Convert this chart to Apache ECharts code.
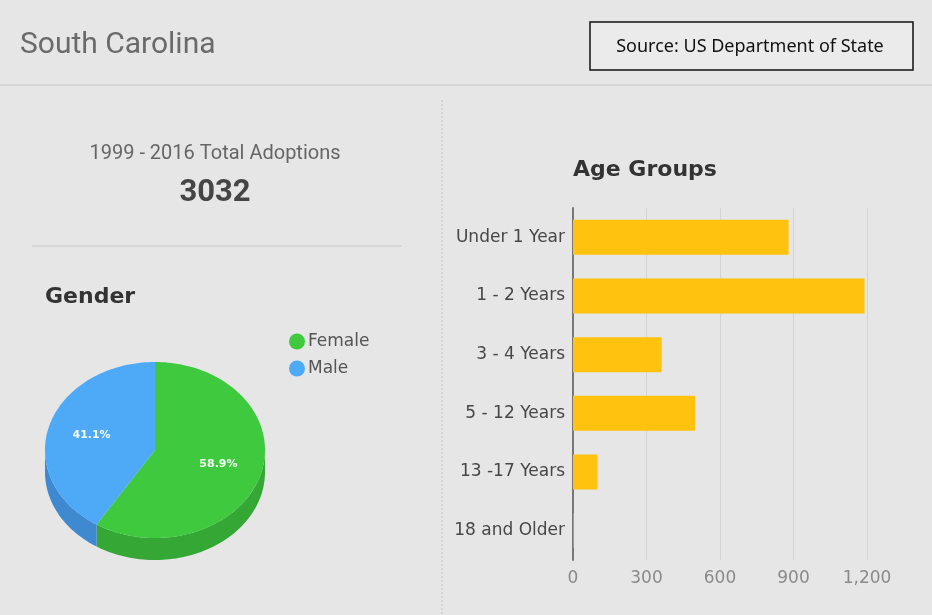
<!DOCTYPE html>
<html>
<head>
<meta charset="utf-8">
<script src="https://cdn.jsdelivr.net/npm/echarts@6/dist/echarts.min.js"></script>
<style>
  html, body { margin: 0; padding: 0; background: #e6e6e6; }
  #chart { width: 932px; height: 615px; }
</style>
</head>
<body>
<div id="chart"></div>
<script>
// data
const genderNames = ['Female', 'Male']
const genderShares = [58.9, 41.1]
const genderColors = ['#3fc93f', '#4ea9f6']
const genderSides = ['#34a734', '#3e89cf']

const ageGroups = ['Under 1 Year', '1 - 2 Years', '3 - 4 Years', '5 - 12 Years', '13 -17 Years', '18 and Older']
const ageCounts = [880, 1190, 362, 498, 100, 2]
const ageTicks = [0, 300, 600, 900, 1200]

const totalYears = '1999 - 2016 Total Adoptions'
const totalAdoptions = '3032'

const chart = echarts.init(document.getElementById('chart'))

// tilted pie, drawn as an ellipse with a darker rim
const pieCx = 155, pieCy = 450, pieR = 110, tilt = 0.8, depth = 22

const pt = (t, dy) => [pieCx + pieR * Math.sin(t), pieCy - pieR * tilt * Math.cos(t) + dy]

const arc = (a, b, dy) => {
  const pts = []
  const n = Math.max(2, Math.ceil((b - a) / 0.03))
  for (let i = 0; i <= n; i++) pts.push(pt(a + (b - a) * i / n, dy))
  return pts
}

const renderSlice = (params, api) => {
  const share = api.value(0)
  const before = api.value(1)
  const idx = api.value(2)
  const t0 = before / 100 * Math.PI * 2
  const t1 = (before + share) / 100 * Math.PI * 2
  const children = []

  // rim: only the front half shows
  const a = Math.max(t0, Math.PI / 2)
  const b = Math.min(t1, Math.PI * 1.5)
  if (b > a) {
    const top = arc(a, b, 0)
    const bottom = arc(a, b, depth).reverse()
    children.push({
      type: 'polygon',
      shape: {points: top.concat(bottom)},
      style: {fill: genderSides[idx]}
    })
  }

  children.push({
    type: 'polygon',
    shape: {points: [[pieCx, pieCy]].concat(arc(t0, t1, 0))},
    style: {fill: genderColors[idx]}
  })

  const mid = (t0 + t1) / 2
  const lp = [pieCx + pieR * 0.6 * Math.sin(mid), pieCy - pieR * tilt * 0.6 * Math.cos(mid)]
  children.push({
    type: 'text',
    style: {
      text: share.toFixed(1) + '%',
      x: lp[0], y: lp[1],
      align: 'center', verticalAlign: 'middle',
      fill: '#f4fff4',
      font: 'bold 11px "DejaVu Sans"'
    }
  })
  return {type: 'group', children}
}

let running = 0
const pieSeries = genderNames.map((name, i) => {
  const s = {
    name,
    type: 'custom',
    coordinateSystem: 'none',
    itemStyle: {color: genderColors[i]},
    renderItem: renderSlice,
    silent: true,
    data: [[genderShares[i], running, i]]
  }
  running += genderShares[i]
  return s
})

const text = (str, x, y, font, fill, align) => ({
  type: 'text',
  style: {
    text: str, x, y, font, fill,
    align: align || 'left', verticalAlign: 'middle',
    textAlign: align || 'left', textVerticalAlign: 'middle'
  }
})

let option = {
  backgroundColor: '#e6e6e6',
  animation: false,
  graphic: [
    text('South Carolina', 20, 45, '30px Roboto', '#6a6a6a'),
    {
      type: 'rect',
      shape: {x: 590, y: 22, width: 323, height: 48},
      style: {fill: '#ebebeb', stroke: '#111', lineWidth: 1.5}
    },
    text('Source: US Department of State', 750, 47, '18px "Noto Sans"', '#111', 'center'),
    {
      type: 'line',
      shape: {x1: 0, y1: 85, x2: 932, y2: 85},
      style: {stroke: '#d6d6d6', lineWidth: 2}
    },
    {
      type: 'line',
      shape: {x1: 442, y1: 100, x2: 442, y2: 615},
      style: {stroke: '#cfcfcf', lineWidth: 1.5, lineDash: [2, 2]}
    },
    text(totalYears, 215, 154, '20px Roboto', '#666', 'center'),
    text(totalAdoptions, 215, 193, 'bold 31px Roboto', '#454545', 'center'),
    {
      type: 'line',
      shape: {x1: 32, y1: 246, x2: 402, y2: 246},
      style: {stroke: '#d2d2d2', lineWidth: 1.5}
    },
    text('Gender', 45, 297, 'bold 22px "DejaVu Sans"', '#333'),
    text('Age Groups', 573, 170, 'bold 22px "DejaVu Sans"', '#333')
  ],
  legend: {
    orient: 'vertical',
    left: 284,
    top: 328,
    icon: 'circle',
    itemWidth: 16,
    itemHeight: 16,
    itemGap: 10,
    selectedMode: false,
    data: genderNames,
    textStyle: {
      fontFamily: 'DejaVu Sans',
      fontSize: 17,
      color: '#555',
      padding: [0, 0, 0, -2]
    }
  },
  grid: {
    left: 573,
    top: 208,
    width: 294,
    height: 352
  },
  xAxis: {
    type: 'value',
    min: ageTicks[0],
    max: ageTicks[ageTicks.length - 1],
    interval: ageTicks[1] - ageTicks[0],
    axisLine: {show: false},
    axisTick: {show: false},
    axisLabel: {
      fontFamily: 'DejaVu Sans',
      fontSize: 17,
      color: '#8a8a8a',
      margin: 10
    },
    splitLine: {
      lineStyle: {color: '#d4d4d4', width: 1}
    }
  },
  yAxis: {
    type: 'category',
    inverse: true,
    data: ageGroups,
    axisLine: {lineStyle: {color: '#777', width: 2}},
    axisTick: {show: false},
    axisLabel: {
      fontFamily: 'DejaVu Sans',
      fontSize: 17,
      color: '#474747',
      margin: 8
    }
  },
  series: [
    {
      name: 'Age Groups',
      type: 'bar',
      barWidth: 35,
      itemStyle: {color: '#ffc20e'},
      data: ageCounts
    }
  ].concat(pieSeries)
}

chart.setOption(option)
</script>
</body>
</html>
